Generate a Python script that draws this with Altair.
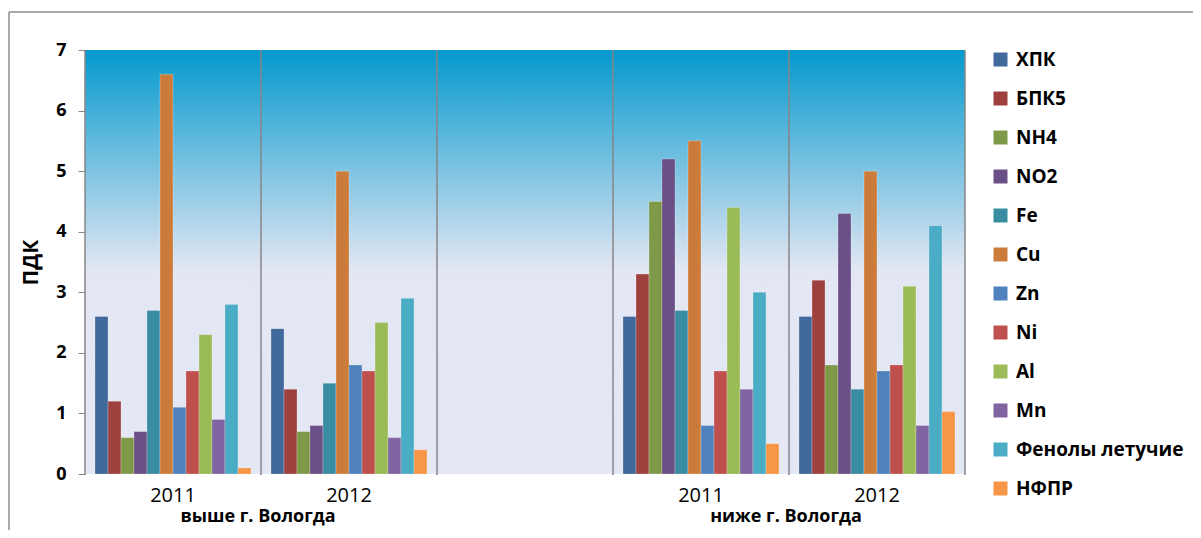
import altair as alt
import pandas as pd

# ---- data ----
series = ["ХПК", "БПК5", "NH4", "NO2", "Fe", "Cu", "Zn", "Ni", "Al", "Mn",
          "Фенолы летучие", "НФПР"]
colors = ["#41699B", "#9E413E", "#7E9A48", "#6A5086", "#3A8CA3", "#CC7C3A",
          "#4F81BD", "#C0504D", "#9BBB59", "#8064A2", "#4BACC6", "#F79646"]

slots = ["a2011", "a2012", "gap", "b2011", "b2012"]
slot_labels = ["2011", "2012", "", "2011", "2012"]
groups = ["выше г. Вологда", "ниже г. Вологда"]
group_anchor = ["a2012", "b2012"]

above_2011 = [2.6, 1.2, 0.6, 0.7, 2.7, 6.6, 1.1, 1.7, 2.3, 0.9, 2.8, 0.1]
above_2012 = [2.4, 1.4, 0.7, 0.8, 1.5, 5.0, 1.8, 1.7, 2.5, 0.6, 2.9, 0.4]
below_2011 = [2.6, 3.3, 4.5, 5.2, 2.7, 5.5, 0.8, 1.7, 4.4, 1.4, 3.0, 0.5]
below_2012 = [2.6, 3.2, 1.8, 4.3, 1.4, 5.0, 1.7, 1.8, 3.1, 0.8, 4.1, 1.03]

rows = []
for slot, vals in zip(["a2011", "a2012", "b2011", "b2012"],
                      [above_2011, above_2012, below_2011, below_2012]):
    for s, v in zip(series, vals):
        rows.append({"slot": slot, "series": s, "value": v})
df = pd.DataFrame(rows)

label_map = "{" + ",".join(f"'{k}':'{v}'" for k, v in zip(slots, slot_labels)) + "}"

FONT = "Open Sans"
W, H = 880, 424
GRID = "#868686"

xscale = alt.Scale(domain=slots, paddingInner=0, paddingOuter=0)

background = alt.Chart(pd.DataFrame({"d": [0]})).mark_rect(
    fill=alt.Gradient(
        gradient="linear",
        stops=[alt.GradientStop(color="#0399CD", offset=0),
               alt.GradientStop(color="#E3E7F3", offset=0.52),
               alt.GradientStop(color="#E4E7F4", offset=1)],
        x1=0, x2=0, y1=0, y2=1,
    )
).encode(x=alt.value(0), x2=alt.value(W), y=alt.value(0), y2=alt.value(H))

bars = alt.Chart(df).mark_bar(stroke="#FFFFFF", strokeWidth=0.4, strokeOpacity=0.6).encode(
    x=alt.X("slot:N", scale=xscale, sort=slots,
            axis=alt.Axis(title=None, labelExpr=f"{label_map}[datum.value]",
                          labelAngle=0, ticks=False, domain=False, grid=False,
                          labelFont=FONT, labelFontSize=20, labelColor="#000000",
                          labelPadding=11)),
    xOffset=alt.XOffset("series:N", sort=series,
                        scale=alt.Scale(paddingInner=0, paddingOuter=0.77)),
    y=alt.Y("value:Q", scale=alt.Scale(domain=[0, 7], nice=False),
            axis=alt.Axis(title="ПДК", values=[0, 1, 2, 3, 4, 5, 6, 7],
                          grid=False, domainColor=GRID, tickColor=GRID,
                          tickSize=7, labelPadding=12, labelFont=FONT,
                          labelFontSize=18, labelFontWeight="bold",
                          labelColor="#000000", titleFont=FONT,
                          titleFontSize=21, titleFontWeight="bold",
                          titleColor="#000000", titlePadding=14)),
    color=alt.Color("series:N", sort=series,
                    scale=alt.Scale(domain=series, range=colors),
                    legend=alt.Legend(title=None, orient="right", offset=26,
                                      padding=0, symbolType="square",
                                      symbolSize=196, symbolStrokeWidth=0,
                                      labelFont=FONT, labelFontSize=19,
                                      labelFontWeight="bold", labelLimit=400,
                                      labelColor="#000000", rowPadding=19,
                                      labelOffset=6)),
)

sep_df = pd.DataFrame({"slot": slots})
separators = alt.Chart(sep_df).mark_rule(color=GRID, strokeWidth=1.5).encode(
    x=alt.X("slot:N", scale=xscale, sort=slots, bandPosition=0),
    y=alt.value(0), y2=alt.value(H + 1),
)
right_edge = alt.Chart(pd.DataFrame({"slot": [slots[-1]]})).mark_rule(
    color=GRID, strokeWidth=1.5).encode(
    x=alt.X("slot:N", scale=xscale, sort=slots, bandPosition=1),
    y=alt.value(0), y2=alt.value(H + 1),
)

group_df = pd.DataFrame({"slot": group_anchor, "label": groups})
group_text = alt.Chart(group_df).mark_text(
    font=FONT, fontSize=18, fontWeight="bold", color="#000000",
    baseline="alphabetic", align="center", dx=-3,
).encode(
    x=alt.X("slot:N", scale=xscale, sort=slots, bandPosition=0),
    y=alt.value(H + 48), text="label:N",
)

# outer chart frame (partially visible in the reference)
frame_top = alt.Chart(pd.DataFrame({"d": [0]})).mark_rule(color="#8C8C8C", strokeWidth=1.5).encode(
    x=alt.value(-76), x2=alt.value(1110), y=alt.value(-38))
frame_left = alt.Chart(pd.DataFrame({"d": [0]})).mark_rule(color="#8C8C8C", strokeWidth=1.5).encode(
    x=alt.value(-76), y=alt.value(-38), y2=alt.value(482))

chart = alt.layer(
    background, bars, separators, right_edge, group_text, frame_top, frame_left
).properties(
    width=W, height=H,
    autosize=alt.AutoSizeParams(type="none"),
    padding={"left": 77, "top": 42, "right": 228, "bottom": 56},
).configure_view(stroke=None)

chart.save("out.html", embed_options={"renderer": "svg", "actions": False})
